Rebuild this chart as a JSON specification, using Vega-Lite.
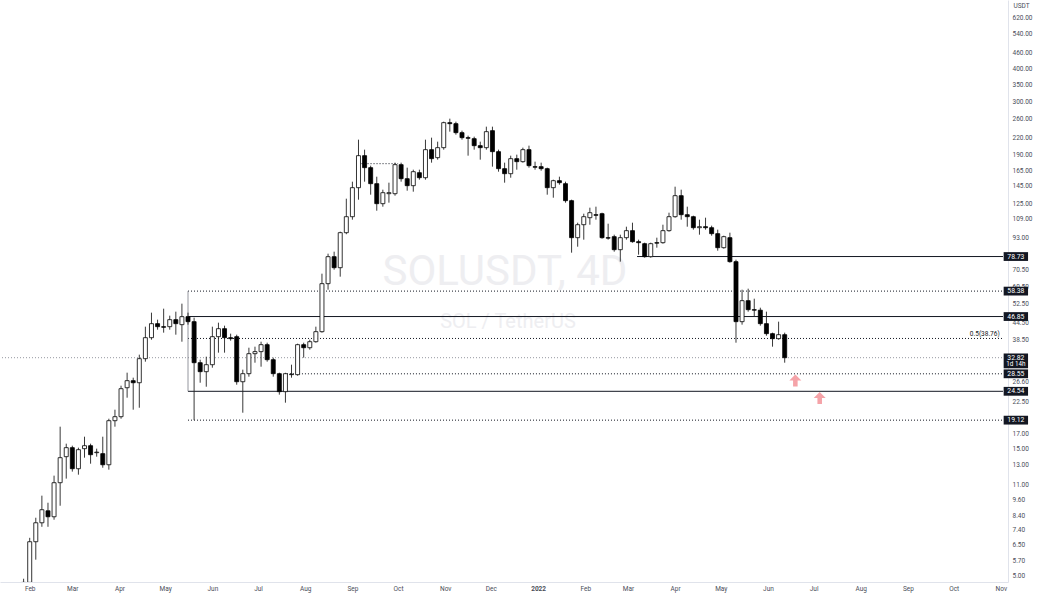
{
  "$schema": "https://vega.github.io/schema/vega-lite/v6.json",
  "width": 1008,
  "height": 582,
  "autosize": {"type": "none"},
  "padding": {"left": 0, "top": 0, "right": 30, "bottom": 11},
  "background": "#ffffff",
  "config": {"view": {"stroke": null}, "font": "Roboto", "axis": {"grid": false, "ticks": false}},
  "datasets": {
    "candles": [
      {"d":"2021-01-28","o":4.1,"h":4.85,"l":3.9,"c":4.7},
      {"d":"2021-02-01","o":4.7,"h":6.91,"l":4.5,"c":6.68},
      {"d":"2021-02-05","o":6.68,"h":8.22,"l":5.72,"c":7.87},
      {"d":"2021-02-09","o":7.87,"h":9.95,"l":7.6,"c":8.81},
      {"d":"2021-02-13","o":8.73,"h":9.36,"l":7.6,"c":8.29},
      {"d":"2021-02-17","o":8.29,"h":11.83,"l":8.08,"c":11.13},
      {"d":"2021-02-21","o":11.13,"h":18.07,"l":9.12,"c":13.82},
      {"d":"2021-02-25","o":13.94,"h":15.6,"l":11.53,"c":15.07},
      {"d":"2021-03-01","o":15.07,"h":15.33,"l":12.25,"c":12.56},
      {"d":"2021-03-05","o":12.56,"h":15.07,"l":11.93,"c":14.81},
      {"d":"2021-03-09","o":14.94,"h":16.57,"l":13.82,"c":15.33},
      {"d":"2021-03-13","o":15.33,"h":15.6,"l":13.12,"c":14.18},
      {"d":"2021-03-17","o":14.43,"h":14.94,"l":13.94,"c":14.5},
      {"d":"2021-03-21","o":14.31,"h":16.57,"l":12.67,"c":13.0},
      {"d":"2021-03-25","o":13.0,"h":19.36,"l":12.46,"c":19.03},
      {"d":"2021-03-29","o":19.03,"h":20.93,"l":18.07,"c":19.7},
      {"d":"2021-04-02","o":19.7,"h":25.76,"l":19.36,"c":25.1},
      {"d":"2021-04-06","o":25.31,"h":28.83,"l":23.22,"c":26.9},
      {"d":"2021-04-10","o":26.9,"h":27.61,"l":20.93,"c":26.43},
      {"d":"2021-04-14","o":26.43,"h":33.69,"l":21.29,"c":32.54},
      {"d":"2021-04-18","o":32.54,"h":42.92,"l":31.71,"c":39.02},
      {"d":"2021-04-22","o":39.02,"h":48.45,"l":38.35,"c":44.05},
      {"d":"2021-04-26","o":44.05,"h":45.6,"l":41.82,"c":42.92},
      {"d":"2021-04-30","o":42.92,"h":50.15,"l":40.75,"c":42.7},
      {"d":"2021-05-04","o":42.92,"h":47.2,"l":41.82,"c":45.6},
      {"d":"2021-05-08","o":45.6,"h":48.87,"l":40.05,"c":44.05},
      {"d":"2021-05-12","o":43.67,"h":52.37,"l":37.69,"c":46.8},
      {"d":"2021-05-16","o":46.8,"h":48.45,"l":43.67,"c":44.82},
      {"d":"2021-05-20","o":44.82,"h":46.39,"l":19.12,"c":31.43},
      {"d":"2021-05-24","o":31.43,"h":32.26,"l":26.43,"c":29.08},
      {"d":"2021-05-28","o":29.08,"h":33.11,"l":25.53,"c":30.89},
      {"d":"2021-06-01","o":30.89,"h":42.92,"l":30.1,"c":39.36},
      {"d":"2021-06-05","o":39.36,"h":44.43,"l":34.28,"c":42.18},
      {"d":"2021-06-09","o":42.18,"h":43.29,"l":34.28,"c":39.02},
      {"d":"2021-06-13","o":39.02,"h":40.4,"l":38.02,"c":38.7},
      {"d":"2021-06-17","o":39.36,"h":40.05,"l":25.98,"c":26.66},
      {"d":"2021-06-21","o":26.66,"h":29.59,"l":20.39,"c":28.58},
      {"d":"2021-06-25","o":28.58,"h":35.78,"l":27.85,"c":33.98},
      {"d":"2021-06-29","o":33.98,"h":36.1,"l":31.43,"c":34.58},
      {"d":"2021-07-03","o":34.58,"h":37.69,"l":30.36,"c":36.73},
      {"d":"2021-07-07","o":36.73,"h":37.37,"l":31.71,"c":32.26},
      {"d":"2021-07-11","o":32.26,"h":32.83,"l":27.85,"c":28.58},
      {"d":"2021-07-15","o":28.58,"h":28.83,"l":23.84,"c":24.46},
      {"d":"2021-07-19","o":24.46,"h":28.8,"l":22.24,"c":28.58},
      {"d":"2021-07-23","o":28.34,"h":30.89,"l":27.61,"c":28.46},
      {"d":"2021-07-27","o":28.34,"h":37.05,"l":28.09,"c":36.73},
      {"d":"2021-07-31","o":36.73,"h":37.37,"l":32.83,"c":35.78},
      {"d":"2021-08-04","o":35.78,"h":38.35,"l":35.18,"c":37.69},
      {"d":"2021-08-08","o":37.69,"h":42.92,"l":37.37,"c":41.1},
      {"d":"2021-08-12","o":41.1,"h":67.88,"l":40.75,"c":62.26},
      {"d":"2021-08-16","o":62.26,"h":80.7,"l":59.1,"c":78.63},
      {"d":"2021-08-20","o":78.63,"h":82.11,"l":70.27,"c":71.49},
      {"d":"2021-08-24","o":71.49,"h":97.63,"l":66.14,"c":96.78},
      {"d":"2021-08-28","o":96.78,"h":129.85,"l":95.5,"c":111.13},
      {"d":"2021-09-01","o":111.13,"h":150.43,"l":108.29,"c":142.82},
      {"d":"2021-09-05","o":142.82,"h":216.37,"l":128.75,"c":188.39},
      {"d":"2021-09-09","o":188.39,"h":198.43,"l":150.43,"c":169.82},
      {"d":"2021-09-13","o":169.82,"h":172.79,"l":134.43,"c":147.85},
      {"d":"2021-09-17","o":147.85,"h":157.07,"l":117.05,"c":124.37},
      {"d":"2021-09-21","o":124.37,"h":140.37,"l":121.18,"c":136.77},
      {"d":"2021-09-25","o":135.6,"h":149.14,"l":125.45,"c":136.8},
      {"d":"2021-09-29","o":135.59,"h":177.34,"l":133.27,"c":174.29},
      {"d":"2021-10-03","o":174.29,"h":177.34,"l":150.43,"c":154.37},
      {"d":"2021-10-07","o":154.37,"h":169.82,"l":139.16,"c":145.31},
      {"d":"2021-10-11","o":145.31,"h":166.88,"l":137.97,"c":164.02},
      {"d":"2021-10-15","o":162.6,"h":166.88,"l":153.06,"c":155.72},
      {"d":"2021-10-19","o":155.72,"h":216.37,"l":153.06,"c":198.43},
      {"d":"2021-10-23","o":198.43,"h":220.13,"l":177.34,"c":183.56},
      {"d":"2021-10-27","o":185.16,"h":212.66,"l":182.0,"c":201.89},
      {"d":"2021-10-31","o":201.89,"h":252.82,"l":198.43,"c":250.64},
      {"d":"2021-11-04","o":250.64,"h":259.46,"l":231.86,"c":248.48},
      {"d":"2021-11-08","o":248.48,"h":252.82,"l":225.92,"c":229.86},
      {"d":"2021-11-12","o":229.86,"h":233.88,"l":216.37,"c":220.13},
      {"d":"2021-11-16","o":220.13,"h":223.97,"l":188.39,"c":219.0},
      {"d":"2021-11-20","o":218.23,"h":222.04,"l":198.43,"c":205.42},
      {"d":"2021-11-24","o":205.42,"h":212.66,"l":182.0,"c":201.89},
      {"d":"2021-11-28","o":201.89,"h":242.11,"l":198.43,"c":231.86},
      {"d":"2021-12-02","o":233.88,"h":242.11,"l":171.3,"c":195.03},
      {"d":"2021-12-06","o":195.03,"h":198.43,"l":164.02,"c":168.36},
      {"d":"2021-12-10","o":168.36,"h":177.34,"l":149.14,"c":161.2},
      {"d":"2021-12-14","o":161.2,"h":188.39,"l":155.72,"c":183.56},
      {"d":"2021-12-18","o":183.56,"h":190.03,"l":166.88,"c":178.88},
      {"d":"2021-12-22","o":178.88,"h":201.89,"l":177.34,"c":198.43},
      {"d":"2021-12-26","o":198.43,"h":205.42,"l":169.82,"c":172.79},
      {"d":"2021-12-30","o":171.3,"h":178.88,"l":166.88,"c":170.5},
      {"d":"2022-01-03","o":171.3,"h":177.34,"l":165.44,"c":168.36},
      {"d":"2022-01-07","o":168.36,"h":169.82,"l":134.43,"c":142.82},
      {"d":"2022-01-11","o":142.82,"h":153.06,"l":130.98,"c":151.74},
      {"d":"2022-01-15","o":151.74,"h":157.07,"l":146.58,"c":149.14},
      {"d":"2022-01-19","o":147.85,"h":150.43,"l":125.45,"c":127.64},
      {"d":"2022-01-23","o":127.64,"h":128.75,"l":81.4,"c":92.68},
      {"d":"2022-01-27","o":92.68,"h":105.51,"l":85.73,"c":103.7},
      {"d":"2022-01-31","o":103.7,"h":114.05,"l":91.09,"c":111.13},
      {"d":"2022-02-04","o":110.17,"h":120.14,"l":103.7,"c":115.04},
      {"d":"2022-02-08","o":113.07,"h":121.18,"l":108.29,"c":112.5},
      {"d":"2022-02-12","o":114.05,"h":115.04,"l":91.88,"c":92.68},
      {"d":"2022-02-16","o":92.68,"h":104.6,"l":91.09,"c":92.3},
      {"d":"2022-02-20","o":93.49,"h":95.12,"l":82.11,"c":83.54},
      {"d":"2022-02-24","o":83.54,"h":95.12,"l":75.31,"c":92.68},
      {"d":"2022-02-28","o":92.68,"h":101.92,"l":91.09,"c":98.47},
      {"d":"2022-03-04","o":98.47,"h":105.51,"l":88.76,"c":89.53},
      {"d":"2022-03-08","o":89.53,"h":91.09,"l":80.0,"c":88.76},
      {"d":"2022-03-12","o":87.99,"h":88.76,"l":77.95,"c":78.63},
      {"d":"2022-03-16","o":78.63,"h":88.76,"l":77.95,"c":87.99},
      {"d":"2022-03-20","o":88.76,"h":92.68,"l":85.0,"c":88.4},
      {"d":"2022-03-24","o":88.76,"h":103.7,"l":87.99,"c":98.47},
      {"d":"2022-03-28","o":98.47,"h":115.04,"l":97.63,"c":111.13},
      {"d":"2022-04-01","o":111.13,"h":144.06,"l":110.17,"c":133.27},
      {"d":"2022-04-05","o":133.27,"h":140.37,"l":108.29,"c":113.07},
      {"d":"2022-04-09","o":113.07,"h":121.18,"l":101.92,"c":111.13},
      {"d":"2022-04-13","o":111.13,"h":112.09,"l":99.33,"c":101.04},
      {"d":"2022-04-17","o":101.04,"h":108.29,"l":95.12,"c":101.92},
      {"d":"2022-04-21","o":101.92,"h":110.17,"l":99.33,"c":101.04},
      {"d":"2022-04-25","o":101.04,"h":102.81,"l":94.3,"c":95.95},
      {"d":"2022-04-29","o":95.95,"h":99.33,"l":82.82,"c":85.0},
      {"d":"2022-05-03","o":85.0,"h":94.3,"l":84.28,"c":93.49},
      {"d":"2022-05-07","o":92.68,"h":96.78,"l":74.65,"c":75.31},
      {"d":"2022-05-11","o":75.31,"h":76.62,"l":37.37,"c":44.82},
      {"d":"2022-05-15","o":44.82,"h":59.1,"l":43.67,"c":53.74},
      {"d":"2022-05-19","o":53.74,"h":59.62,"l":48.87,"c":49.72},
      {"d":"2022-05-23","o":49.72,"h":54.67,"l":46.8,"c":49.5},
      {"d":"2022-05-27","o":49.5,"h":50.58,"l":43.29,"c":44.05},
      {"d":"2022-05-31","o":44.05,"h":48.87,"l":39.7,"c":40.4},
      {"d":"2022-06-04","o":40.4,"h":40.75,"l":36.1,"c":38.69},
      {"d":"2022-06-08","o":38.69,"h":44.82,"l":38.35,"c":40.05},
      {"d":"2022-06-12","o":40.05,"h":40.75,"l":31.43,"c":32.82}
    ],
    "solid": [
      {"from":"2022-03-07","to":"2022-11-02T10:00:00Z","price":78.73},
      {"from":"2021-05-16","to":"2022-11-02T10:00:00Z","price":46.85},
      {"from":"2021-05-16","to":"2022-11-02T10:00:00Z","price":24.54}
    ],
    "dotted": [
      {"from":"2021-05-16","to":"2022-11-02T10:00:00Z","price":58.38},
      {"from":"2021-05-16","to":"2022-11-02T10:00:00Z","price":38.76},
      {"from":"2021-07-20","to":"2022-11-02T10:00:00Z","price":28.55},
      {"from":"2021-05-16","to":"2022-11-02T10:00:00Z","price":19.12},
      {"from":"2021-09-07","to":"2021-10-01","price":175.8}
    ],
    "vertical": [{"d":"2021-05-16","top":58.38,"bottom":24.54}],
    "current": [{"price":32.82,"label":"32.82","sub":"1d 14h"}],
    "boxes": [
      {"price":78.73},{"price":58.38},{"price":46.85},{"price":28.55},{"price":24.54},{"price":19.12}
    ],
    "arrows": [
      {"d":"2022-06-19","p":26.97},
      {"d":"2022-07-05","p":23.17}
    ],
    "wm1": [{"t":"SOLUSDT, 4D","d":"2021-12-10T05:00:00Z","p":69.06}],
    "wm2": [{"t":"SOL / TetherUS","d":"2021-12-12T05:00:00Z","p":44.82}],
    "fib": [{"t":"0.5(38.76)","price":38.76}]
  },
  "layer": [
    {
      "data": {"name": "candles"},
      "mark": {"type": "bar", "size": 4, "stroke": "#000000", "strokeWidth": 0.8, "clip": true, "opacity": 0},
      "encoding": {
        "x": {
          "field": "d", "type": "temporal",
          "scale": {"type": "utc", "domain": [1610735400000, 1667383200000], "nice": false},
          "axis": {
            "orient": "bottom", "title": null, "grid": false, "ticks": false,
            "values": [1612137600000,1614556800000,1617235200000,1619827200000,1622505600000,1625097600000,1627776000000,1630454400000,1633046400000,1635724800000,1638316800000,1640995200000,1643673600000,1646092800000,1648771200000,1651363200000,1654041600000,1656633600000,1659312000000,1661990400000,1664582400000,1667260800000],
            "labelExpr": "utcFormat(datum.value, '%m') == '01' ? utcFormat(datum.value, '%Y') : utcFormat(datum.value, '%b')",
            "labelFontWeight": {"condition": {"test": "utcFormat(datum.value, '%m') == '01'", "value": "bold"}, "value": "normal"},
            "labelFontSize": 6.5, "labelColor": "#4a4e59", "labelPadding": 3,
            "labelFlush": false, "labelOverlap": false, "labelAlign": "center",
            "domainColor": "#e0e3eb", "domainWidth": 1, "labelFont": "Roboto"
          }
        },
        "y": {
          "field": "o", "type": "quantitative",
          "scale": {"type": "log", "domain": [4.715, 724.2], "nice": false, "zero": false},
          "axis": {
            "orient": "right", "grid": false, "ticks": false,
            "values": [620,540,460,400,350,300,260,220,190,165,145,125,109,93,70.5,60.5,52.5,44.5,38.5,26.6,22.5,17,15,13,11,9.6,8.4,7.4,6.5,5.7,5.0],
            "format": ".2f", "labelFontSize": 6.5, "labelColor": "#4a4e59", "labelPadding": 4,
            "labelAlign": "left", "labelOverlap": false, "labelFlush": false, "labelFont": "Roboto",
            "domainColor": "#e0e3eb", "domainWidth": 1,
            "title": "USDT", "titleAngle": 0, "titleX": 5, "titleY": 5, "titleAlign": "left",
            "titleBaseline": "middle", "titleFontSize": 6.5, "titleFontWeight": "normal", "titleColor": "#4a4e59", "titleFont": "Roboto"
          }
        },
        "y2": {"field": "c"}
      }
    },
    {
      "data": {"name": "wm1"},
      "mark": {"type": "text", "fontSize": 42, "color": "#eeeef1", "align": "center", "baseline": "middle", "font": "Roboto"},
      "encoding": {
        "x": {"field": "d", "type": "temporal"},
        "y": {"field": "p", "type": "quantitative"},
        "text": {"field": "t"}
      }
    },
    {
      "data": {"name": "wm2"},
      "mark": {"type": "text", "fontSize": 20, "color": "#eeeef1", "align": "center", "baseline": "middle", "font": "Roboto"},
      "encoding": {
        "x": {"field": "d", "type": "temporal"},
        "y": {"field": "p", "type": "quantitative"},
        "text": {"field": "t"}
      }
    },
    {
      "data": {"name": "current"},
      "mark": {"type": "rule", "color": "#9598a1", "strokeWidth": 1, "strokeDash": [1, 2]},
      "encoding": {
        "y": {"field": "price", "type": "quantitative"}
      }
    },
    {
      "data": {"name": "solid"},
      "mark": {"type": "rule", "color": "#131722", "strokeWidth": 1},
      "encoding": {
        "x": {"field": "from", "type": "temporal"},
        "x2": {"field": "to"},
        "y": {"field": "price", "type": "quantitative"}
      }
    },
    {
      "data": {"name": "dotted"},
      "mark": {"type": "rule", "color": "#131722", "strokeWidth": 1, "strokeDash": [1, 2]},
      "encoding": {
        "x": {"field": "from", "type": "temporal"},
        "x2": {"field": "to"},
        "y": {"field": "price", "type": "quantitative"}
      }
    },
    {
      "data": {"name": "vertical"},
      "mark": {"type": "rule", "color": "#787b86", "strokeWidth": 0.8},
      "encoding": {
        "x": {"field": "d", "type": "temporal"},
        "y": {"field": "top", "type": "quantitative"},
        "y2": {"field": "bottom"}
      }
    },
    {
      "data": {"name": "candles"},
      "mark": {"type": "rule", "color": "#222222", "strokeWidth": 0.9, "clip": true},
      "encoding": {
        "x": {"field": "d", "type": "temporal"},
        "y": {"field": "l", "type": "quantitative"},
        "y2": {"field": "h"}
      }
    },
    {
      "data": {"name": "candles"},
      "mark": {"type": "bar", "size": 4, "stroke": "#000000", "strokeWidth": 0.8, "clip": true},
      "encoding": {
        "x": {"field": "d", "type": "temporal"},
        "y": {"field": "o", "type": "quantitative"},
        "y2": {"field": "c"},
        "fill": {"condition": {"test": "datum.c >= datum.o", "value": "#ffffff"}, "value": "#000000"}
      }
    },
    {
      "data": {"name": "fib"},
      "mark": {"type": "text", "fontSize": 6.5, "color": "#131722", "align": "right", "baseline": "bottom", "dy": -1, "font": "Roboto"},
      "encoding": {
        "x": {"datum": {"year": 2022, "month": 10, "date": 31, "hours": 6, "utc": true}, "type": "temporal"},
        "y": {"field": "price", "type": "quantitative"},
        "text": {"field": "t"}
      }
    },
    {
      "data": {"name": "arrows"},
      "mark": {"type": "point", "shape": "M0,-1L1,0L0.38,0L0.38,1L-0.38,1L-0.38,0L-1,0Z", "size": 144, "filled": true, "color": "#f5a3a8", "strokeWidth": 0, "opacity": 1},
      "encoding": {
        "x": {"field": "d", "type": "temporal"},
        "y": {"field": "p", "type": "quantitative"}
      }
    },
    {
      "data": {"name": "boxes"},
      "mark": {"type": "point", "shape": "M-1.22,-0.44H1.22V0.44H-1.22Z", "size": 400, "filled": true, "color": "#131722", "strokeWidth": 0, "opacity": 1},
      "encoding": {
        "x": {"datum": {"year": 2022, "month": 11, "date": 10, "hours": 20, "minutes": 40, "utc": true}, "type": "temporal"},
        "y": {"field": "price", "type": "quantitative"}
      }
    },
    {
      "data": {"name": "current"},
      "mark": {"type": "point", "shape": "M-1.22,-0.42H1.22V1.06H-1.22Z", "size": 400, "filled": true, "color": "#131722", "strokeWidth": 0, "opacity": 1},
      "encoding": {
        "x": {"datum": {"year": 2022, "month": 11, "date": 10, "hours": 20, "minutes": 40, "utc": true}, "type": "temporal"},
        "y": {"field": "price", "type": "quantitative"}
      }
    },
    {
      "data": {"name": "boxes"},
      "mark": {"type": "text", "fontSize": 6.8, "color": "#ffffff", "align": "center", "baseline": "middle", "font": "Roboto"},
      "encoding": {
        "x": {"datum": {"year": 2022, "month": 11, "date": 10, "hours": 20, "minutes": 40, "utc": true}, "type": "temporal"},
        "y": {"field": "price", "type": "quantitative"},
        "text": {"field": "price", "format": ".2f"}
      }
    },
    {
      "data": {"name": "current"},
      "mark": {"type": "text", "fontSize": 6.8, "color": "#ffffff", "align": "center", "baseline": "middle", "font": "Roboto"},
      "encoding": {
        "x": {"datum": {"year": 2022, "month": 11, "date": 10, "hours": 20, "minutes": 40, "utc": true}, "type": "temporal"},
        "y": {"field": "price", "type": "quantitative"},
        "text": {"field": "label"}
      }
    },
    {
      "data": {"name": "current"},
      "mark": {"type": "text", "fontSize": 6.3, "color": "#ffffff", "align": "center", "baseline": "middle", "dy": 6.8, "font": "Roboto"},
      "encoding": {
        "x": {"datum": {"year": 2022, "month": 11, "date": 10, "hours": 20, "minutes": 40, "utc": true}, "type": "temporal"},
        "y": {"field": "price", "type": "quantitative"},
        "text": {"field": "sub"}
      }
    }
  ]
}
